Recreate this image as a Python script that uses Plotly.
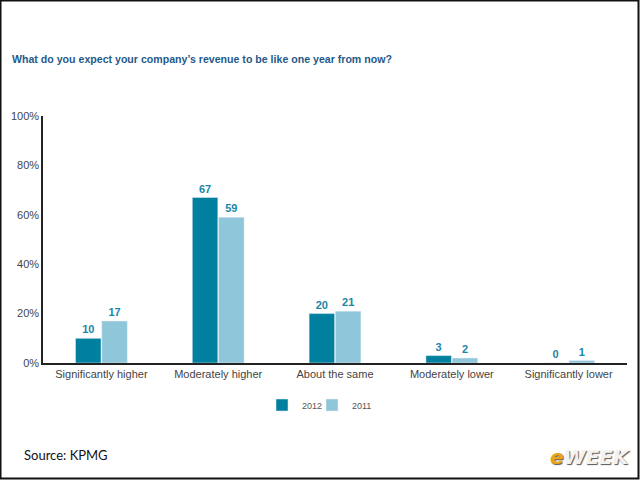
import plotly.graph_objects as go

categories = ["Significantly higher", "Moderately higher", "About the same", "Moderately lower", "Significantly lower"]
values_2012 = [10, 67, 20, 3, 0]
values_2011 = [17, 59, 21, 2, 1]
y_ticks = [0, 20, 40, 60, 80, 100]
y_tick_labels = ["0%", "20%", "40%", "60%", "80%", "100%"]

DARK = "#00809e"
LIGHT = "#8fc6d9"
LABEL = "#1a86a6"

W, H = 640, 480
L, R, T, B = 43, 13, 116, 117
pw, ph = W - L - R, H - T - B

def px(x):
    return (x - L) / pw

def py(y):
    return (H - B - y) / ph

fig = go.Figure()
fig.add_trace(go.Bar(
    name="2012", x=categories, y=values_2012, marker_color=DARK,
    text=[str(v) for v in values_2012], textposition="outside",
    textfont=dict(color=LABEL, size=11, family="Liberation Sans", weight="bold"),
    cliponaxis=False, legend="legend",
))
fig.add_trace(go.Bar(
    name="2011", x=categories, y=values_2011, marker_color=LIGHT,
    text=[str(v) for v in values_2011], textposition="outside",
    textfont=dict(color=LABEL, size=11, family="Liberation Sans", weight="bold"),
    cliponaxis=False, legend="legend2",
))

leg_common = dict(orientation="h", yanchor="middle", xanchor="left",
                  font=dict(size=9, color="#555555"), itemwidth=30,
                  bgcolor="rgba(0,0,0,0)", borderwidth=0)

fig.update_layout(
    width=W, height=H,
    margin=dict(l=L, r=R, t=T, b=B),
    plot_bgcolor="white", paper_bgcolor="white",
    barmode="group", bargap=0.55, bargroupgap=0.03,
    font=dict(family="Liberation Sans", color="#444444", size=11),
    showlegend=True,
    legend=dict(x=px(262), y=py(405), **leg_common),
    legend2=dict(x=px(312), y=py(405), **leg_common),
    xaxis=dict(showline=True, linecolor="#222222", linewidth=1.5, ticks="",
               tickfont=dict(size=11, color="#444444"), showgrid=False),
    yaxis=dict(range=[0, 100], tickvals=y_ticks, ticktext=y_tick_labels,
               showline=True, linecolor="#222222", linewidth=1.5, showgrid=False,
               zeroline=False, ticks="", tickfont=dict(size=11, color="#444444")),
)

fig.add_annotation(
    text="What do you expect your company\u2019s revenue to be like one year from now?",
    xref="paper", yref="paper", x=px(10), y=py(59), xanchor="left", yanchor="middle",
    showarrow=False, font=dict(size=10.6, color="#1f5a8a", family="Liberation Sans", weight="bold"),
)
fig.add_annotation(
    text="Source: KPMG", xref="paper", yref="paper", x=px(22), y=py(455),
    xanchor="left", yanchor="middle", showarrow=False,
    font=dict(size=13, color="#111111", family="Lato"),
)
fig.add_annotation(
    text="<span style='color:#e8a317'>e</span>WEEK", xref="paper", yref="paper",
    x=px(632), y=py(457), xanchor="right", yanchor="middle", showarrow=False,
    font=dict(size=20, color="#f2f2f2", family="DejaVu Sans", weight="bold", style="italic",
              shadow="1px 1px 1px #555555"),
)

# frame around the whole image
fig.add_shape(type="rect", xref="paper", yref="paper",
              x0=px(0.5), x1=px(638.5), y0=py(0.5), y1=py(478.5),
              line=dict(color="#111111", width=2), fillcolor="rgba(0,0,0,0)", layer="above")

fig.write_html("out.html")
